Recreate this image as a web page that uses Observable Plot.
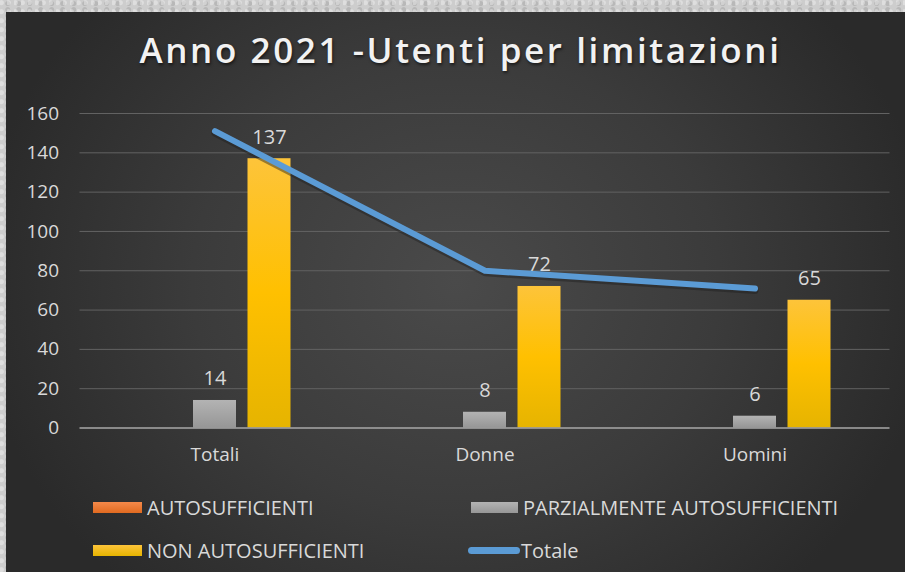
<!DOCTYPE html>
<html>
<head>
<meta charset="utf-8">
<script src="https://cdn.jsdelivr.net/npm/d3@7"></script>
<script src="https://cdn.jsdelivr.net/npm/@observablehq/plot@0.6"></script>
<style>
  * { box-sizing: border-box; }
  ::-webkit-scrollbar { display: none; width: 0; height: 0; }
  html, body { margin: 0; padding: 0; overflow: hidden; scrollbar-width: none; }
  html { background: #cdcdcd; }
  body {
    width: 905px; height: 572px; position: relative;
    background: #cdcdcd;
    background-image:
      radial-gradient(circle at 20% 30%, rgba(255,255,255,0.35) 0 2px, transparent 3px),
      radial-gradient(circle at 70% 60%, rgba(120,120,120,0.25) 0 2px, transparent 3px);
    background-size: 7px 9px, 11px 6px;
    font-family: "Open Sans", sans-serif;
  }
  #panel {
    position: absolute; left: 6px; top: 12px; width: 899px; height: 560px;
    background: radial-gradient(ellipse 480px 420px at 450px 270px, #4a4a4a 0%, #3b3b3b 55%, #2a2a2a 100%);
  }
  #title {
    position: absolute; left: 16px; width: 889px; top: 26px; text-align: center;
    color: #f2f2f2; font-size: 35px; font-weight: 600; letter-spacing: 2.6px; line-height: 48px;
    text-shadow: 1px 2px 3px rgba(0,0,0,0.55);
    white-space: nowrap;
  }
  #chart { position: absolute; left: 0; top: 90px; width: 905px; height: 390px; }
  #chart svg { display: block; }
  .leg { position: absolute; display: flex; align-items: center; color: #d9d9d9; font-size: 20px; line-height: 27px; white-space: nowrap; }
  .sw { display: inline-block; width: 49px; height: 11px; margin-right: 5px; }
  .ln { display: inline-block; width: 52px; height: 7px; border-radius: 4px; margin-right: 1px; }
</style>
</head>
<body>
<svg width="0" height="0" style="position:absolute; left:0; top:0">
  <defs>
    <linearGradient id="gYellow" x1="0" y1="0" x2="0" y2="1">
      <stop offset="0" stop-color="#fdc43a"/>
      <stop offset="0.5" stop-color="#ffc000"/>
      <stop offset="1" stop-color="#e6b400"/>
    </linearGradient>
    <linearGradient id="gGray" x1="0" y1="0" x2="0" y2="1">
      <stop offset="0" stop-color="#b3b3b3"/>
      <stop offset="0.5" stop-color="#a5a5a5"/>
      <stop offset="1" stop-color="#969696"/>
    </linearGradient>
    <linearGradient id="gOrange" x1="0" y1="0" x2="0" y2="1">
      <stop offset="0" stop-color="#f4894a"/>
      <stop offset="1" stop-color="#e06a20"/>
    </linearGradient>
  </defs>
</svg>
<div id="panel"></div>
<div id="title">Anno 2021 -Utenti per limitazioni</div>
<div id="chart"></div>
<div class="leg" style="left:93px; top:494px;"><span class="sw" style="background:linear-gradient(#f4894a,#e06a20)"></span>AUTOSUFFICIENTI</div>
<div class="leg" style="left:471px; top:494px;"><span class="sw" style="width:47px;background:linear-gradient(#b3b3b3,#969696)"></span>PARZIALMENTE AUTOSUFFICIENTI</div>
<div class="leg" style="left:93px; top:537px;"><span class="sw" style="background:linear-gradient(#fdc43a,#e6b400)"></span>NON AUTOSUFFICIENTI</div>
<div class="leg" style="left:468px; top:537px;"><span class="ln" style="background:#5b9bd5"></span>Totale</div>
<script>
const categories = ["Totali", "Donne", "Uomini"];
const autosufficienti = [0, 0, 0];
const parzialmente = [14, 8, 6];
const nonAutosufficienti = [137, 72, 65];
const totale = [151, 80, 71];
const yTicks = [0, 20, 40, 60, 80, 100, 120, 140, 160];

const rows = categories.map((c, i) => ({
  cat: c,
  auto: autosufficienti[i],
  parz: parzialmente[i],
  non: nonAutosufficienti[i],
  tot: totale[i]
}));

const off = 54.5;
const labelColor = "#d9d9d9";

const chart = Plot.plot({
  width: 905,
  height: 390,
  marginLeft: 79.5,
  marginRight: 15.5,
  marginTop: 23,
  marginBottom: 52.5,
  style: { background: "transparent", fontFamily: "'Open Sans', sans-serif", color: labelColor },
  x: { domain: categories, paddingInner: 0.841, paddingOuter: 0.4205, label: null },
  y: { domain: [0, 160], ticks: yTicks, label: null },
  marks: [
    Plot.gridY(yTicks.filter(d => d > 0), { stroke: "#626262", strokeOpacity: 1, strokeWidth: 1 }),
    Plot.axisY({ ticks: yTicks, tickSize: 0, tickPadding: 21, fontSize: 19, fill: labelColor, label: null }),
    Plot.axisX({ tickSize: 0, tickPadding: 19, fontSize: 19, fill: labelColor, label: null }),
    Plot.barY(rows, { x: "cat", y: "auto", dx: -off, fill: "url(#gOrange)" }),
    Plot.barY(rows, { x: "cat", y: "parz", fill: "url(#gGray)" }),
    Plot.barY(rows, { x: "cat", y: "non", dx: off, fill: "url(#gYellow)" }),
    Plot.ruleY([0], { stroke: "#a8a8a8", strokeWidth: 1.5 }),
    Plot.text(rows, { x: "cat", y: "parz", text: d => String(d.parz), lineAnchor: "bottom", dy: -15, fontSize: 20, fill: labelColor }),
    Plot.text(rows, { x: "cat", y: "non", text: d => String(d.non), dx: off, lineAnchor: "bottom", dy: -15, fontSize: 20, fill: labelColor }),
    Plot.lineY(rows, { x: "cat", y: "tot", stroke: "#1f1f1f", strokeOpacity: 0.45, strokeWidth: 7, strokeLinecap: "round", strokeLinejoin: "round", dy: 2 }),
    Plot.lineY(rows, { x: "cat", y: "tot", stroke: "#5b9bd5", strokeWidth: 6, strokeLinecap: "round", strokeLinejoin: "round" })
  ]
});
document.getElementById("chart").appendChild(chart);
</script>
</body>
</html>
